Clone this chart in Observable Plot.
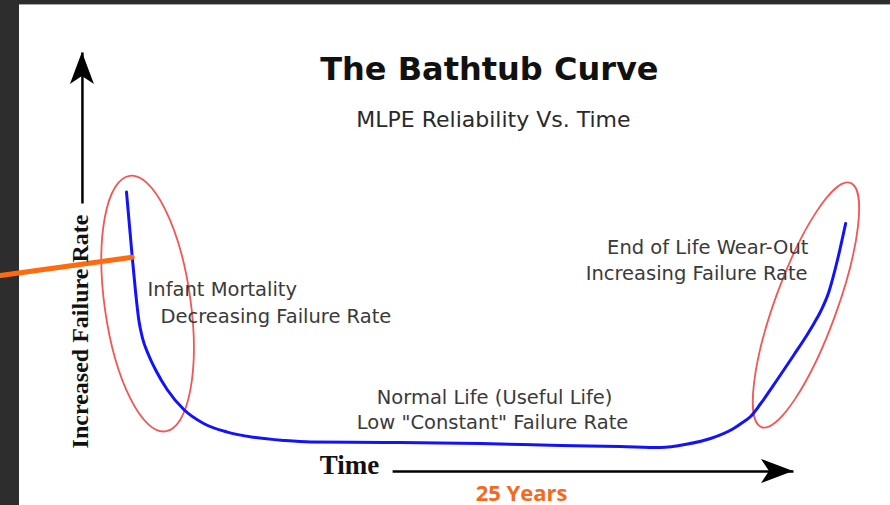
<!DOCTYPE html>
<html>
<head>
<meta charset="utf-8">
<script src="https://cdn.jsdelivr.net/npm/d3@7"></script>
<script src="https://cdn.jsdelivr.net/npm/@observablehq/plot@0.6"></script>
<style>
  html, body { margin: 0; padding: 0; background: #fff; }
  #wrap { position: relative; width: 890px; height: 505px; overflow: hidden; background: #fff; }
  #topband { position: absolute; left: 0; top: 0; width: 890px; height: 4px; background: #2d2d2d; border-bottom: 1px solid #a8a8a8; }
  #leftband { position: absolute; left: 0; top: 0; width: 19px; height: 505px; background: #2d2d2d; }
  #chart { position: absolute; left: 0; top: 0; }
</style>
</head>
<body>
<div id="wrap"><div id="topband"></div><div id="leftband"></div><div id="chart"></div></div>
<script>
// ---- Bathtub curve (time in years, relative failure rate) ----
const years = [0, 0.2, 0.31, 0.43, 0.55, 0.76, 1.04, 1.41, 1.99, 2.68, 3.5, 4.42, 5.46, 6.39, 8.92, 12.3, 15.07, 17.15, 18.54, 19.48, 20.28, 21.08, 21.39, 21.67, 22.01, 22.6, 23.16, 23.65, 23.89, 24.1, 24.38, 24.69, 24.97];
const failureRate = [67.1, 50.8, 42.5, 35, 30.75, 26.5, 22.25, 17.75, 12.75, 9.25, 7.1, 5.8, 5, 4.6, 4.5, 4.25, 3.75, 3.5, 3.25, 4.125, 5.5, 8, 9.5, 11, 14.125, 20.25, 26.25, 31.625, 34.5, 37.25, 42, 50.25, 59.25];

// ---- Titles ----
const titleText = ["The Bathtub Curve"];
const titleX = [12.6];
const titleY = [95.25];
const subtitleText = ["MLPE Reliability Vs. Time"];
const subtitleX = [12.74];
const subtitleY = [83.5];

// ---- Region notes ----
const leftNotes = ["Infant Mortality", "Decreasing Failure Rate"];
const leftNoteX = [0.73, 1.18];
const leftNoteY = [41.25, 34.5];
const rightNotes = ["End of Life Wear-Out", "Increasing Failure Rate"];
const rightNoteX = [23.68, 23.65];
const rightNoteY = [51.75, 45.25];
const midNotes = ["Normal Life (Useful Life)", "Low \"Constant\" Failure Rate"];
const midNoteX = [12.78, 12.71];
const midNoteY = [14.25, 8];

// ---- Axis arrows (drawn axes) ----
const axisX1 = [-1.53, 9.24];
const axisY1 = [64.25, -2.75];
const axisX2 = [-1.53, 23.16];
const axisY2 = [102, -2.75];
const yLabel = ["Increased Failure Rate"];
const yLabelX = [-1.32];
const yLabelY = [32.25];
const xLabel = ["Time"];
const xLabelX = [7.74];
const xLabelY = [-3.25];
const spanLabel = ["25 Years"];
const spanX = [13.72];
const spanY = [-10];

// ---- Highlight ellipses (centres) and pointer line ----
const ellipseCx = [0.75, 23.61];
const ellipseCy = [39.1, 38.75];
const pointerX = [-4.375, 0.2];
const pointerY = [46.25, 50.8];

const curve = years.map((x, i) => ({x, y: failureRate[i]}));
const pointer = pointerX.map((x, i) => ({x, y: pointerY[i]}));
const rows = (t, xs, ys) => t.map((text, i) => ({text, x: xs[i], y: ys[i]}));
const arrows = axisX1.map((x1, i) => ({x1, y1: axisY1[i], x2: axisX2[i], y2: axisY2[i]}));

function ellipsesMark(index, scales) {
  const shapes = [{rx: 43, ry: 129, rot: -8}, {rx: 31, ry: 130, rot: 20}];
  const g = d3.create("svg:g").attr("fill", "none").attr("stroke", "#f25656").attr("stroke-width", 1.8);
  ellipseCx.forEach((cx, i) => {
    const px = scales.x(cx), py = scales.y(ellipseCy[i]);
    g.append("ellipse").attr("cx", 0).attr("cy", 0)
      .attr("rx", shapes[i].rx).attr("ry", shapes[i].ry)
      .attr("transform", `translate(${px},${py}) rotate(${shapes[i].rot})`);
  });
  return g.node();
}

function arrowHeadsMark(index, scales) {
  const g = d3.create("svg:g").attr("fill", "#000");
  arrows.forEach(a => {
    const x1 = scales.x(a.x1), y1 = scales.y(a.y1), x2 = scales.x(a.x2), y2 = scales.y(a.y2);
    const ang = Math.atan2(y2 - y1, x2 - x1) * 180 / Math.PI;
    g.append("path").attr("d", "M0,0L-32,-12L-24,0L-32,12Z")
      .attr("transform", `translate(${x2},${y2}) rotate(${ang})`);
  });
  return g.node();
}

const noteFont = {fontFamily: "DejaVu Sans", fontSize: 19.5, fill: "#3a3a3a", lineAnchor: "bottom"};

const chart = Plot.plot({
  width: 890,
  height: 505,
  marginLeft: 126,
  marginRight: 44,
  marginTop: 60,
  marginBottom: 45,
  x: {domain: [0, 25], axis: null},
  y: {domain: [0, 100], axis: null},
  style: {background: "transparent", overflow: "visible"},
  marks: [
    ellipsesMark,
    Plot.line(curve, {x: "x", y: "y", stroke: "#1212ff", strokeWidth: 3, curve: "monotone-x"}),
    Plot.link(arrows, {x1: "x1", y1: "y1", x2: "x2", y2: "y2", stroke: "#000", strokeWidth: 2.5}),
    arrowHeadsMark,
    Plot.line(pointer, {x: "x", y: "y", stroke: "#ff6a0e", strokeWidth: 5}),
    Plot.text(rows(titleText, titleX, titleY), {x: "x", y: "y", text: "text", textAnchor: "middle", lineAnchor: "bottom", fontFamily: "DejaVu Sans", fontWeight: "bold", fontSize: 32, fill: "#111"}),
    Plot.text(rows(subtitleText, subtitleX, subtitleY), {x: "x", y: "y", text: "text", textAnchor: "middle", lineAnchor: "bottom", fontFamily: "DejaVu Sans", fontSize: 22, fill: "#2a2a2a"}),
    Plot.text(rows(leftNotes, leftNoteX, leftNoteY), {x: "x", y: "y", text: "text", textAnchor: "start", ...noteFont}),
    Plot.text(rows(rightNotes, rightNoteX, rightNoteY), {x: "x", y: "y", text: "text", textAnchor: "end", ...noteFont}),
    Plot.text(rows(midNotes, midNoteX, midNoteY), {x: "x", y: "y", text: "text", textAnchor: "middle", ...noteFont}),
    Plot.text(rows(yLabel, yLabelX, yLabelY), {x: "x", y: "y", text: "text", rotate: -90, textAnchor: "middle", lineAnchor: "bottom", fontFamily: "Liberation Serif", fontWeight: "bold", fontSize: 24, fill: "#111"}),
    Plot.text(rows(xLabel, xLabelX, xLabelY), {x: "x", y: "y", text: "text", textAnchor: "middle", lineAnchor: "bottom", fontFamily: "Liberation Serif", fontWeight: "bold", fontSize: 27, fill: "#111"}),
    Plot.text(rows(spanLabel, spanX, spanY), {x: "x", y: "y", text: "text", textAnchor: "middle", lineAnchor: "bottom", fontFamily: "Open Sans", fontWeight: "bold", fontSize: 22, fill: "#f4691c"})
  ]
});

document.getElementById("chart").appendChild(chart);
</script>
</body>
</html>
